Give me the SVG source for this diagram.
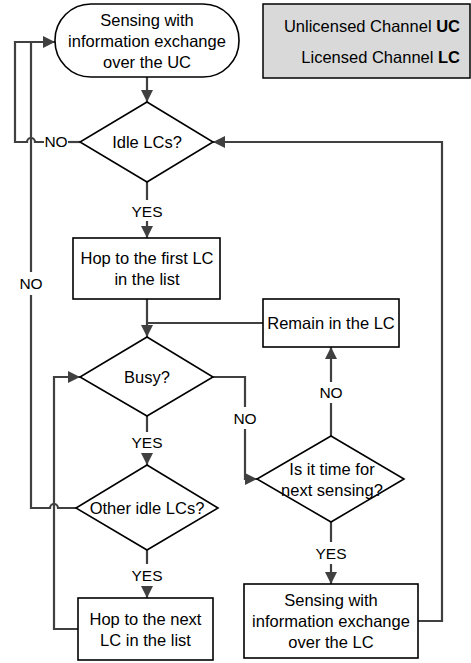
<svg xmlns="http://www.w3.org/2000/svg" width="471" height="663" viewBox="0 0 471 663">
<style>
.shape{fill:#fff;stroke:#000;stroke-width:1.6}
.conn{fill:none;stroke:#404040;stroke-width:2.2}
text{font-family:"Liberation Sans",Arial,sans-serif;font-size:16.5px;fill:#000;text-anchor:middle}
.lbl{font-size:15.5px}
</style>
<defs>
<marker id="arr" markerUnits="userSpaceOnUse" markerWidth="12" markerHeight="12" refX="12" refY="6" orient="auto">
<path d="M0,0 L12,6 L0,12 z" fill="#404040"/>
</marker>
</defs>
<rect width="471" height="663" fill="#fff"/>

<g id="legend">
<rect x="263" y="4" width="207" height="74" fill="#d9d9d9" stroke="#000" stroke-width="1.5"/>
<text x="460" y="32" style="text-anchor:end">Unlicensed Channel <tspan font-weight="bold">UC</tspan></text>
<text x="460" y="63" style="text-anchor:end">Licensed Channel <tspan font-weight="bold">LC</tspan></text>
</g>

<g id="connectors">
<path class="conn" d="M147,77 V102" marker-end="url(#arr)"/>
<path class="conn" d="M80,142 H68"/>
<path class="conn" d="M44,142 H35 A4,4 0 0 0 27,142 H15 V42 H55" marker-end="url(#arr)"/>
<path class="conn" d="M147,182 V200"/>
<path class="conn" d="M147,221 V238" marker-end="url(#arr)"/>
<path class="conn" d="M147,299 V337" marker-end="url(#arr)"/>
<path class="conn" d="M263,323 H147"/>
<path class="conn" d="M213,377 H245 V407"/>
<path class="conn" d="M245,429 V479 H257" marker-end="url(#arr)"/>
<path class="conn" d="M331,436 V403"/>
<path class="conn" d="M331,382 V347" marker-end="url(#arr)"/>
<path class="conn" d="M331,522 V542"/>
<path class="conn" d="M331,564 V584" marker-end="url(#arr)"/>
<path class="conn" d="M418,621 H442 V142 H213" marker-end="url(#arr)"/>
<path class="conn" d="M147,416 V432"/>
<path class="conn" d="M147,453 V465" marker-end="url(#arr)"/>
<path class="conn" d="M76,508 H58 A4,4 0 0 0 50,508 H31 V295"/>
<path class="conn" d="M31,272 V42"/>
<path class="conn" d="M147,550 V564"/>
<path class="conn" d="M147,586 V598" marker-end="url(#arr)"/>
<path class="conn" d="M78,629 H54 V377 H80" marker-end="url(#arr)"/>
<text class="lbl" x="56" y="147">NO</text>
<text class="lbl" x="31" y="289">NO</text>
<text class="lbl" x="147" y="217">YES</text>
<text class="lbl" x="245" y="424">NO</text>
<text class="lbl" x="331" y="398">NO</text>
<text class="lbl" x="147" y="448">YES</text>
<text class="lbl" x="331" y="559">YES</text>
<text class="lbl" x="147" y="581">YES</text>
</g>

<g id="start">
<rect class="shape" x="55" y="4" width="184" height="73" rx="36" ry="36"/>
<text x="147" y="26">Sensing with</text>
<text x="147" y="47">information exchange</text>
<text x="147" y="68">over  the UC</text>
</g>

<g id="idle">
<polygon class="shape" points="147,102 213,142 147,182 80,142"/>
<text x="147" y="148">Idle LCs?</text>
</g>

<g id="hopfirst">
<rect class="shape" x="73" y="238" width="147" height="61"/>
<text x="147" y="264">Hop to the first LC</text>
<text x="147" y="285">in the list</text>
</g>

<g id="remain">
<rect class="shape" x="263" y="299" width="136" height="48"/>
<text x="331" y="329">Remain in the LC</text>
</g>

<g id="busy">
<polygon class="shape" points="147,337 213,377 147,416 80,377"/>
<text x="147" y="383">Busy?</text>
</g>

<g id="time">
<polygon class="shape" points="331,436 404,479 331,522 257,479"/>
<text x="332" y="475">Is it time for</text>
<text x="332" y="496">next sensing?</text>
</g>

<g id="otheridle">
<polygon class="shape" points="147,465 218,508 147,550 76,508"/>
<text x="147" y="514">Other idle LCs?</text>
</g>

<g id="hopnext">
<rect class="shape" x="78" y="598" width="135" height="62"/>
<text x="145.5" y="625">Hop to the next</text>
<text x="145.5" y="646">LC in the list</text>
</g>

<g id="sensinglc">
<rect class="shape" x="244" y="584" width="174" height="74"/>
<text x="331" y="606">Sensing with</text>
<text x="331" y="627">information exchange</text>
<text x="331" y="648">over  the LC</text>
</g>
</svg>
